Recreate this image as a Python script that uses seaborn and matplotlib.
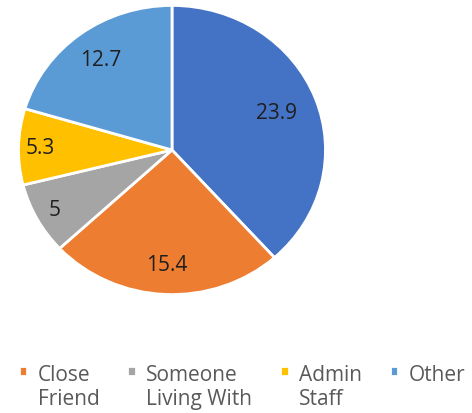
import matplotlib
matplotlib.use("Agg")
import matplotlib.pyplot as plt
import seaborn as sns

# slice values, clockwise from 12 o'clock
categories = ["Family", "Close\nFriend", "Someone\nLiving With", "Admin\nStaff", "Other"]
values = [23.9, 15.4, 5, 5.3, 12.7]
value_labels = ["23.9", "15.4", "5", "5.3", "12.7"]
colors = ["#4472C4", "#ED7D31", "#A5A5A5", "#FFC000", "#5B9BD5"]

sns.set_style("white")
plt.rcParams['font.family'] = ['Open Sans', 'DejaVu Sans']

fig = plt.figure(figsize=(4.72, 4.14), dpi=100)
W, H = 472, 414
# pie is slightly squashed in the reference: 310 px wide, 292 px tall
ax = fig.add_axes([17 / W, (H - 297) / H, 310 / W, 292 / H])

wedges, texts, autotexts = ax.pie(
    values, colors=colors, startangle=90, counterclock=False,
    autopct="%.1f", pctdistance=0.75,
    wedgeprops=dict(edgecolor="white", linewidth=2),
    textprops=dict(fontsize=15, color="#1f1f1f"))

# data labels show the raw values, nudged outwards for small slices
dist = [0.73, 0.79, 0.87, 0.86, 0.78]
for t, lab, d in zip(autotexts, value_labels, dist):
    x, y = t.get_position()
    t.set_text(lab)
    t.set_position((x / 0.75 * d, y / 0.75 * d))

ax.set_aspect("auto")
ax.set_xlim(-1.01, 1.01)
ax.set_ylim(-1.01, 1.01)
ax.axis("off")

# every legend label takes two lines so all entries line up at the top
leg_labels = [c if "\n" in c else c + "\n" for c in categories[1:]]
leg = fig.legend(wedges[1:], leg_labels, ncol=4, loc="upper left",
                 bbox_to_anchor=(0 / W, 1 - 346 / H), frameon=False,
                 fontsize=15, handlelength=0.4, handleheight=0.4,
                 handletextpad=0.5, columnspacing=1.35, labelspacing=0.1)
for t in leg.get_texts():
    t.set_color("#595959")
    t.set_linespacing(1.2)
# square markers sit next to the first line of each label
for h in leg.legend_handles:
    h.set_y(h.get_y() + 11.5)

fig.savefig("out.png", dpi=100)
